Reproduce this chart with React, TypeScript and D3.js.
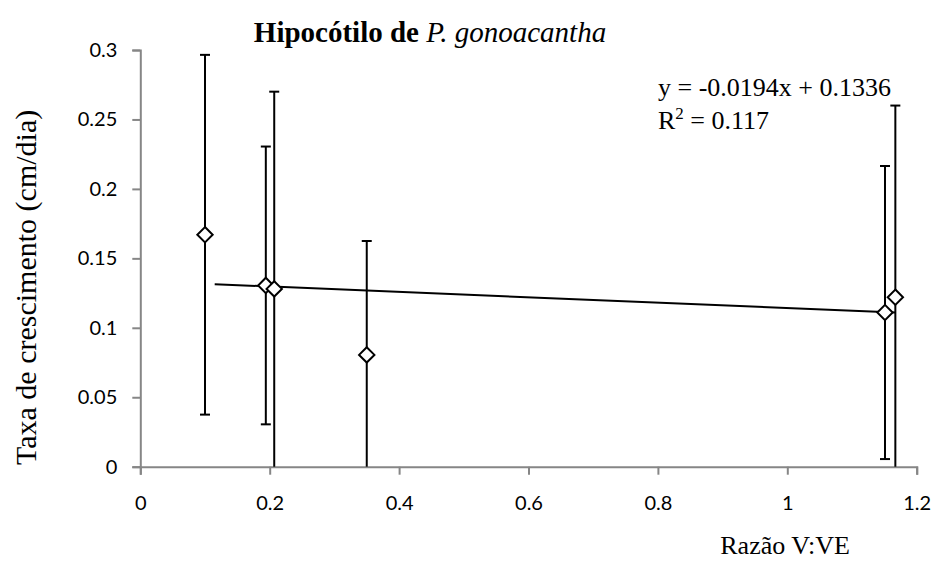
import React, { useEffect, useRef } from 'react';
import * as d3 from 'd3';

const WIDTH = 935;
const HEIGHT = 562;

// Razão V:VE (x) vs. growth rate (y), with symmetric error bars
const ratios = [0.1, 0.194, 0.207, 0.35, 1.151, 1.167];
const rates = [0.167, 0.1305, 0.128, 0.0805, 0.111, 0.122];
const errors = [0.1295, 0.1, 0.142, 0.082, 0.1055, 0.138];

const xTicks = [0, 0.2, 0.4, 0.6, 0.8, 1, 1.2];
const yTicks = [0, 0.05, 0.1, 0.15, 0.2, 0.25, 0.3];

// linear trendline y = slope*x + intercept, drawn across this x range
const trendSlope = -0.0194;
const trendIntercept = 0.1336;
const trendRange = [0.115, 1.167];

const SERIF = '"Liberation Serif", "DejaVu Serif", "Times New Roman", serif';
const SANS = 'Lato, "Liberation Sans", sans-serif';
const AXIS_GREY = '#868686';

export default function App() {
  const ref = useRef<SVGSVGElement>(null);

  useEffect(() => {
    const svg = d3.select(ref.current);
    svg.selectAll('*').remove();

    const x = d3.scaleLinear().domain([0, 1.2]).range([140.3, 916.7]);
    const y = d3.scaleLinear().domain([0, 0.3]).range([466.7, 50]);

    // y axis
    const yAxis = svg.append('g')
      .attr('transform', `translate(${x(0)},0)`)
      .call(d3.axisLeft(y).tickValues(yTicks).tickSize(8).tickPadding(15).tickFormat((d) => String(d)));
    // x axis
    const xAxis = svg.append('g')
      .attr('transform', `translate(0,${y(0)})`)
      .call(d3.axisBottom(x).tickValues(xTicks).tickSize(8).tickPadding(21).tickFormat((d) => String(d)));

    [yAxis, xAxis].forEach((g) => {
      g.select('.domain').attr('stroke', AXIS_GREY).attr('stroke-width', 2);
      g.selectAll('.tick line').attr('stroke', AXIS_GREY).attr('stroke-width', 2);
      g.selectAll('.tick text')
        .attr('fill', '#000')
        .style('font-family', SANS)
        .style('font-size', '20px');
    });

    const yMin = y.domain()[0];
    const yMax = y.domain()[1];

    // error bars, clipped to the plot area
    const bars = svg.append('g').attr('stroke', '#000').attr('stroke-width', 2);
    ratios.forEach((r, i) => {
      const lo = rates[i] - errors[i];
      const hi = rates[i] + errors[i];
      const cx = x(r);
      bars.append('line')
        .attr('x1', cx).attr('x2', cx)
        .attr('y1', y(Math.max(lo, yMin))).attr('y2', y(Math.min(hi, yMax)));
      if (hi <= yMax) {
        bars.append('line').attr('x1', cx - 5).attr('x2', cx + 5).attr('y1', y(hi)).attr('y2', y(hi));
      }
      if (lo >= yMin) {
        bars.append('line').attr('x1', cx - 5).attr('x2', cx + 5).attr('y1', y(lo)).attr('y2', y(lo));
      }
    });

    // trendline
    svg.append('line')
      .attr('x1', x(trendRange[0]))
      .attr('y1', y(trendSlope * trendRange[0] + trendIntercept))
      .attr('x2', x(trendRange[1]))
      .attr('y2', y(trendSlope * trendRange[1] + trendIntercept))
      .attr('stroke', '#000')
      .attr('stroke-width', 2);

    // diamond markers
    const diamond = d3.symbol().type(d3.symbolDiamond2).size(150);
    svg.append('g')
      .selectAll('path')
      .data(ratios.map((r, i) => [r, rates[i]]))
      .enter()
      .append('path')
      .attr('d', diamond)
      .attr('transform', (d) => `translate(${x(d[0])},${y(d[1])})`)
      .attr('fill', '#fff')
      .attr('stroke', '#000')
      .attr('stroke-width', 2);

    // title
    const title = svg.append('text')
      .attr('x', 430)
      .attr('y', 42)
      .attr('text-anchor', 'middle')
      .style('font-family', SERIF)
      .style('font-size', '29px');
    title.append('tspan').style('font-family', SERIF).attr('font-weight', 'bold').text('Hipocótilo de ');
    title.append('tspan').style('font-family', SERIF).attr('font-style', 'italic').text('P. gonoacantha');

    // equation
    svg.append('text')
      .attr('x', 658).attr('y', 96)
      .style('font-family', SERIF).style('font-size', '26px')
      .text('y = -0.0194x + 0.1336');
    const r2 = svg.append('text')
      .attr('x', 658).attr('y', 129)
      .style('font-family', SERIF).style('font-size', '26px');
    r2.append('tspan').text('R');
    r2.append('tspan').attr('dy', -10).style('font-size', '17px').text('2');
    r2.append('tspan').attr('dy', 10).text(' = 0.117');

    // axis titles
    svg.append('text')
      .attr('x', 850).attr('y', 554)
      .attr('text-anchor', 'end')
      .style('font-family', SERIF).style('font-size', '26px')
      .text('Razão V:VE');

    svg.append('text')
      .attr('transform', 'translate(36,465) rotate(-90)')
      .attr('text-anchor', 'start')
      .style('font-family', SERIF).style('font-size', '30px')
      .text('Taxa de crescimento (cm/dia)');
  }, []);

  return (
    <svg
      ref={ref}
      width={WIDTH}
      height={HEIGHT}
      style={{ position: 'absolute', left: 0, top: 0, background: '#fff' }}
    ></svg>
  );
}
